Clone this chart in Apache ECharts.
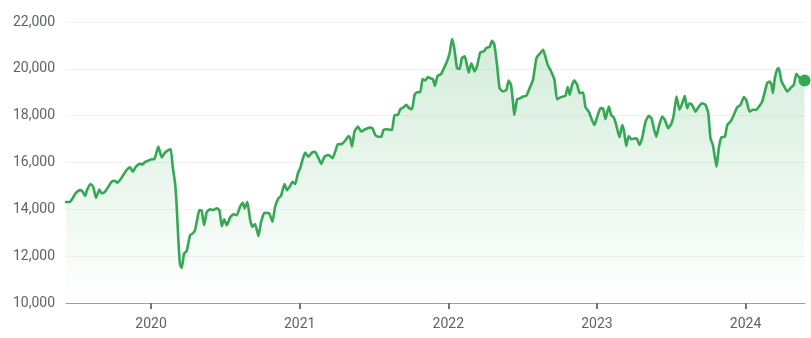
<!DOCTYPE html>
<html>
<head>
<meta charset="utf-8">
<script src="https://cdn.jsdelivr.net/npm/echarts@6/dist/echarts.min.js"></script>
<style>
  html, body { margin: 0; padding: 0; background: #ffffff; }
  #chart { width: 811px; height: 338px; }
</style>
</head>
<body>
<div id="chart"></div>
<script>
// Time position of each close, as a fractional calendar year
const yearPos = [
  2019.428, 2019.455, 2019.473, 2019.488, 2019.510, 2019.527, 2019.540, 2019.556, 2019.571, 2019.594,
  2019.611, 2019.630, 2019.652, 2019.668, 2019.690, 2019.712, 2019.735, 2019.758, 2019.773, 2019.791,
  2019.813, 2019.836, 2019.859, 2019.877, 2019.899, 2019.926, 2019.944, 2019.960, 2019.982, 2020.005,
  2020.022, 2020.049, 2020.072, 2020.094, 2020.117, 2020.133, 2020.146, 2020.162, 2020.173, 2020.184,
  2020.195, 2020.207, 2020.222, 2020.240, 2020.263, 2020.281, 2020.296, 2020.312, 2020.325, 2020.341,
  2020.357, 2020.375, 2020.397, 2020.420, 2020.442, 2020.460, 2020.476, 2020.492, 2020.510, 2020.532,
  2020.554, 2020.577, 2020.599, 2020.618, 2020.630, 2020.648, 2020.667, 2020.682, 2020.700, 2020.723,
  2020.741, 2020.763, 2020.795, 2020.817, 2020.835, 2020.857, 2020.875, 2020.898, 2020.914, 2020.936,
  2020.952, 2020.970, 2020.988, 2021.003, 2021.019, 2021.037, 2021.059, 2021.082, 2021.104, 2021.127,
  2021.145, 2021.167, 2021.190, 2021.205, 2021.221, 2021.239, 2021.257, 2021.284, 2021.306, 2021.329,
  2021.340, 2021.352, 2021.369, 2021.392, 2021.414, 2021.441, 2021.468, 2021.490, 2021.508, 2021.527,
  2021.549, 2021.564, 2021.587, 2021.621, 2021.638, 2021.661, 2021.677, 2021.699, 2021.717, 2021.737,
  2021.756, 2021.773, 2021.789, 2021.811, 2021.827, 2021.845, 2021.863, 2021.879, 2021.897, 2021.910,
  2021.928, 2021.951, 2021.968, 2021.991, 2022.009, 2022.025, 2022.040, 2022.059, 2022.076, 2022.092,
  2022.110, 2022.121, 2022.137, 2022.155, 2022.177, 2022.193, 2022.215, 2022.238, 2022.256, 2022.278,
  2022.294, 2022.310, 2022.328, 2022.345, 2022.368, 2022.391, 2022.406, 2022.422, 2022.436, 2022.444,
  2022.463, 2022.485, 2022.503, 2022.525, 2022.547, 2022.570, 2022.593, 2022.615, 2022.638, 2022.653,
  2022.669, 2022.692, 2022.714, 2022.732, 2022.759, 2022.788, 2022.803, 2022.817, 2022.833, 2022.848,
  2022.867, 2022.884, 2022.907, 2022.923, 2022.945, 2022.968, 2022.983, 2023.001, 2023.024, 2023.042,
  2023.057, 2023.080, 2023.096, 2023.113, 2023.128, 2023.152, 2023.170, 2023.183, 2023.197, 2023.214,
  2023.232, 2023.255, 2023.271, 2023.286, 2023.304, 2023.327, 2023.349, 2023.367, 2023.383, 2023.399,
  2023.416, 2023.439, 2023.457, 2023.480, 2023.502, 2023.517, 2023.535, 2023.556, 2023.574, 2023.591,
  2023.607, 2023.623, 2023.641, 2023.663, 2023.686, 2023.708, 2023.731, 2023.749, 2023.764, 2023.780,
  2023.793, 2023.805, 2023.820, 2023.838, 2023.861, 2023.877, 2023.899, 2023.921, 2023.944, 2023.966,
  2023.989, 2024.005, 2024.027, 2024.049, 2024.072, 2024.094, 2024.112, 2024.130, 2024.146, 2024.162,
  2024.175, 2024.184, 2024.197, 2024.214, 2024.224, 2024.242, 2024.258, 2024.281, 2024.303, 2024.325,
  2024.341, 2024.359, 2024.377, 2024.397
];

// Index level at each of those positions
const closes = [
  14310, 14320, 14470, 14640, 14790, 14820, 14750, 14570, 14850, 15080,
  14960, 14490, 14850, 14680, 14750, 14960, 15180, 15220, 15130, 15250,
  15460, 15680, 15790, 15610, 15820, 15940, 15920, 16030, 16080, 16140,
  16140, 16680, 16220, 16420, 16530, 16560, 15820, 15110, 14110, 12680,
  11650, 11500, 12110, 12220, 12900, 12970, 13110, 13610, 13970, 13940,
  13320, 13890, 14000, 13970, 14040, 13970, 13280, 13570, 13320, 13650,
  13790, 13750, 14110, 14280, 14040, 14320, 13560, 13250, 13370, 12860,
  13470, 13850, 13830, 13470, 14110, 14470, 14580, 15080, 14820, 15000,
  15180, 15080, 15540, 15750, 16110, 16420, 16250, 16420, 16460, 16180,
  15940, 16250, 16320, 16280, 16180, 16460, 16780, 16790, 16930, 17130,
  17030, 16680, 17320, 17530, 17320, 17420, 17490, 17460, 17180, 17100,
  17100, 17390, 17420, 17390, 18030, 18030, 18280, 18360, 18460, 18320,
  18280, 18890, 19000, 19000, 19560, 19500, 19650, 19600, 19560, 19270,
  19700, 19770, 19990, 20310, 20670, 21270, 20890, 20030, 19990, 20460,
  20530, 20310, 19840, 20240, 19890, 20100, 20700, 20740, 20890, 20930,
  21200, 21030, 20170, 19170, 19030, 19100, 19500, 19320, 18530, 18030,
  18700, 18750, 18820, 18850, 19170, 19530, 20460, 20640, 20810, 20530,
  20170, 19890, 19530, 18700, 18790, 18850, 19220, 18890, 19320, 19500,
  19320, 18960, 18990, 18360, 18170, 17790, 17600, 17930, 18320, 18290,
  17850, 18390, 18030, 17930, 17650, 17080, 17600, 17320, 16710, 17130,
  16990, 17030, 16990, 16750, 17030, 17750, 17990, 17890, 17460, 17100,
  17530, 17960, 17820, 17460, 17680, 18030, 18820, 18250, 18530, 18850,
  18320, 18530, 18460, 18170, 18390, 18530, 18460, 18110, 17030, 16750,
  16250, 15820, 16610, 17080, 17100, 17600, 17750, 18030, 18360, 18460,
  18790, 18670, 18170, 18250, 18250, 18420, 18600, 19030, 19390, 19460,
  19320, 18960, 19600, 19990, 20030, 19460, 19270, 19030, 19180, 19320,
  19790, 19650, 19500, 19500
];

// Axis ticks
const yearTicks = [2020, 2021, 2022, 2023, 2024];
const valueMin = 10000;
const valueMax = 22000;
const valueStep = 2000;

const GREEN = '#34A853';
const TEXT = '#5f6368';

const points = yearPos.map((t, i) => [t, closes[i]]);
const lastPoint = points[points.length - 1];

const chart = echarts.init(document.getElementById('chart'), null, { renderer: 'canvas' });
chart.setOption({
  animation: false,
  backgroundColor: '#ffffff',
  grid: { left: 66, right: 6, top: 22, bottom: 35, containLabel: false },
  xAxis: {
    type: 'value',
    min: yearPos[0],
    max: 2024.40,
    axisLine: { show: true, lineStyle: { color: '#9aa0a6', width: 1 } },
    axisTick: {
      show: true,
      customValues: yearTicks,
      length: 6,
      lineStyle: { color: '#70757a', width: 2 }
    },
    axisLabel: {
      customValues: yearTicks,
      formatter: v => String(Math.round(v)),
      color: TEXT,
      fontFamily: 'Roboto',
      fontSize: 14,
      margin: 14
    },
    splitLine: { show: false }
  },
  yAxis: {
    type: 'value',
    min: valueMin,
    max: valueMax,
    interval: valueStep,
    axisLine: { show: false },
    axisTick: { show: false },
    axisLabel: {
      color: TEXT,
      fontFamily: 'Roboto',
      fontSize: 14,
      margin: 11
    },
    splitLine: { lineStyle: { color: '#f1f1f1', width: 1 } }
  },
  series: [
    {
      type: 'line',
      data: points,
      showSymbol: false,
      symbol: 'none',
      smooth: 0.15,
      lineStyle: { color: GREEN, width: 2.6, join: 'round', cap: 'round' },
      areaStyle: {
        origin: 'start',
        color: new echarts.graphic.LinearGradient(0, 0, 0, 1, [
          { offset: 0, color: 'rgba(52,168,83,0.30)' },
          { offset: 1, color: 'rgba(52,168,83,0.0)' }
        ])
      },
      z: 2
    },
    {
      type: 'scatter',
      data: [lastPoint],
      symbol: 'circle',
      symbolSize: 12,
      itemStyle: { color: GREEN, opacity: 1 },
      clip: false,
      z: 3
    }
  ]
});
</script>
</body>
</html>
